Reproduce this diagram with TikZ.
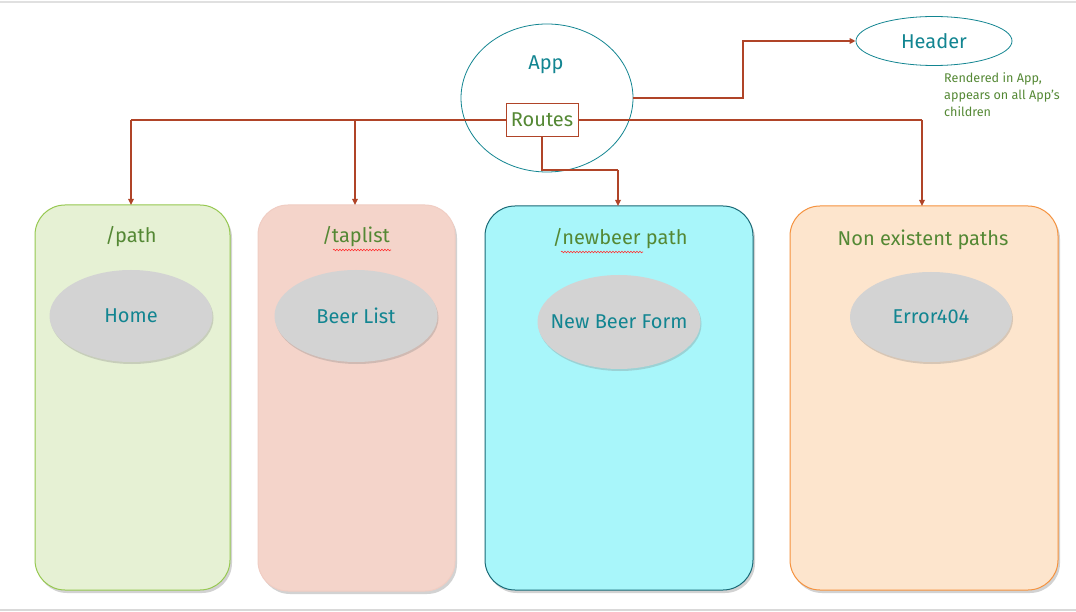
\documentclass[tikz,border=0pt]{standalone}
\usepackage{fontspec}
\setmainfont{Fira Sans}
\usetikzlibrary{shapes.geometric,arrows.meta,shadows,decorations.pathmorphing}
\definecolor{tealtxt}{RGB}{18,133,145}
\definecolor{greentxt}{RGB}{84,136,52}
\definecolor{rust}{RGB}{176,68,40}
\definecolor{gfill}{RGB}{230,241,212}
\definecolor{gline}{RGB}{150,200,80}
\definecolor{pfill}{RGB}{244,212,202}
\definecolor{pline}{RGB}{240,205,195}
\definecolor{cfill}{RGB}{168,246,250}
\definecolor{cline}{RGB}{25,105,118}
\definecolor{ofill}{RGB}{253,229,205}
\definecolor{oline}{RGB}{245,146,62}
\definecolor{ellgray}{RGB}{211,211,211}
\tikzset{
  conn/.style={draw=rust, line width=1.8pt},
  arr/.style={conn, -{Triangle[length=6pt,width=5.5pt]}},
  pathbox/.style={rounded corners=30pt, line width=1pt, drop shadow={shadow xshift=2pt, shadow yshift=-3pt, opacity=0.35}},
  comp/.style={ellipse, fill=ellgray, text=tealtxt, font=\fontsize{20}{22}\selectfont, inner sep=0pt,
     drop shadow={shadow xshift=1pt, shadow yshift=-2pt, opacity=0.3}},
  ttl/.style={text=greentxt, font=\fontsize{20}{22}\selectfont, inner sep=0pt},
  squig/.style={draw=red!80, line width=0.6pt, decorate, decoration={snake, amplitude=0.8pt, segment length=3pt}}
}
\newcommand{\zw}[1]{\makebox[0pt]{#1}}
\begin{document}
\begin{tikzpicture}[x=1pt,y=-1pt]
\useasboundingbox (0,0) rectangle (1076,612);
\fill[white] (0,0) rectangle (1076,612);
\fill[black!12] (0,1) rectangle (1076,3);
\fill[black!15] (0,609) rectangle (1076,611);

% route boxes
\draw[pathbox, draw=gline, fill=gfill] (35,205) rectangle (230,590);
\draw[pathbox, draw=pline, fill=pfill] (258,205) rectangle (455,591);
\draw[pathbox, draw=cline, fill=cfill] (485,206) rectangle (753,590);
\draw[pathbox, draw=oline, fill=ofill] (790,206) rectangle (1058,590);

\node[ttl] (t1) at (131,237) {/path};
\node[ttl] (t2) at (356,237) {/taplist};
\node[ttl] (t3) at (620,239) {/newbeer path};
\node[ttl] (t4) at (923,240) {Non existent paths};

\node[comp, minimum width=163pt, minimum height=92pt] (home) at (131,316) {\zw{Home}};
\node[comp, minimum width=163pt, minimum height=92pt] (beer) at (356,316) {\zw{Beer List}};
\node[comp, minimum width=163pt, minimum height=94pt] (form) at (619,322) {\zw{New Beer Form}};
\node[comp, minimum width=162pt, minimum height=90pt] (err) at (931,317) {\zw{Error404}};

% App and Header
\node[ellipse, draw=tealtxt, line width=0.8pt, minimum width=172pt, minimum height=148pt] (app) at (547,98) {};
\node[text=tealtxt, font=\fontsize{20}{22}\selectfont, inner sep=0pt] (applbl) at (546,65) {App};
\node[ellipse, draw=tealtxt, line width=0.8pt, minimum width=156pt, minimum height=49pt, text=tealtxt, font=\fontsize{20}{22}\selectfont, inner sep=0pt] (header) at (934,41) {\zw{Header}};
\node[text=greentxt, font=\fontsize{12.6}{17}\selectfont, align=left, anchor=north west, inner sep=0pt] (note) at (944,72) {Rendered in App,\\appears on all App's\\children};

% connectors
\coordinate (jL) at (131,120);
\coordinate (jM) at (355,120);
\coordinate (jR) at (922,120);
\coordinate (jB1) at (542,170);
\coordinate (jB2) at (618,170);
\coordinate (jH1) at (743,98);
\coordinate (jH2) at (743,41);
\coordinate (appE) at (633,98);
\draw[conn] (506,120) -- (jL);
\draw[arr] (jL) -- (131,205);
\draw[arr] (jM) -- (355,205);
\draw[conn] (578,120) -- (jR);
\draw[arr] (jR) -- (922,206);
\draw[conn] (542,136) -- (jB1) -- (jB2);
\draw[arr] (jB2) -- (618,206);
\draw[arr] (appE) -- (jH1) -- (jH2) -- (header.west);

\node[draw=rust, line width=1pt, fill=white, minimum width=72pt, minimum height=33pt, text=greentxt, font=\fontsize{20}{22}\selectfont, inner sep=0pt] (routes) at (542,120) {\zw{Routes}};

% spell-check squiggles
\draw[squig] (333,250) -- (391,250);
\draw[squig] (561,252) -- (643,252);
\end{tikzpicture}
\end{document}
